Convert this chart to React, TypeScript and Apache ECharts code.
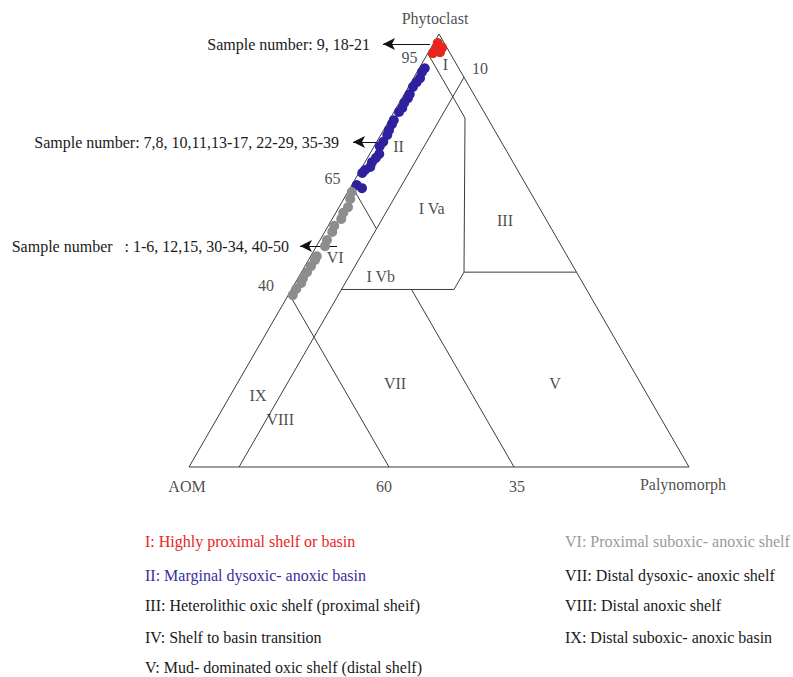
import React, { useEffect, useRef } from "react";
import * as echarts from "echarts";

// Ternary compositions in % : Phytoclast (P), AOM (A), Palynomorph (M)
const redP = [97.9, 96.8, 96.5, 95.8, 95.6];
const redA = [1.3, 1.0, 2.3, 1.9, 3.4];
const redM = [0.8, 2.2, 1.2, 2.3, 1.0];

const blueP = [92.1, 91.2, 89.8, 88.9, 87.8, 86.1, 85.2, 84.1, 82.9, 82.0, 80.1, 79.2, 77.8, 76.7, 75.1, 74.1, 72.3, 71.4, 70.4, 69.3, 68.6, 67.9, 65.1, 64.4];
const blueA = [6.8, 7.8, 8.9, 10.0, 11.3, 12.8, 13.6, 14.9, 15.9, 17.0, 19.0, 19.8, 21.1, 22.0, 23.6, 24.8, 25.8, 26.9, 28.2, 29.1, 30.5, 31.4, 33.9, 33.2];
const blueM = [1.1, 1.0, 1.3, 1.1, 0.9, 1.1, 1.2, 1.0, 1.2, 1.0, 0.9, 1.0, 1.1, 1.3, 1.3, 1.1, 1.9, 1.7, 1.4, 1.6, 0.9, 0.7, 1.0, 2.4];

const grayP = [63.5, 61.9, 60.0, 58.7, 57.3, 55.7, 54.3, 52.4, 51.0, 48.7, 47.8, 46.4, 45.0, 43.6, 42.5, 41.1, 39.7];
const grayA = [35.7, 36.8, 38.2, 39.8, 40.9, 43.1, 44.2, 46.2, 47.3, 50.1, 50.9, 52.4, 53.9, 55.4, 56.3, 58.0, 59.4];
const grayM = [0.8, 1.3, 1.8, 1.5, 1.8, 1.2, 1.5, 1.4, 1.7, 1.2, 1.3, 1.2, 1.1, 1.0, 1.2, 0.9, 0.9];

// Field boundaries, vertices as [P, A, M]
const outline = [[100, 0, 0], [0, 100, 0], [0, 0, 100], [100, 0, 0]];
const lineM10 = [[90, 0, 10], [0, 90, 10]];
const lineA60 = [[40, 60, 0], [0, 60, 40]];
const lineA35Upper = [[65, 35, 0], [55, 35, 10]];
const lineA35Lower = [[41, 35, 24], [0, 35, 65]];
const fieldIVBorder = [[95.5, 4.5, 0], [80.6, 4.5, 14.9], [45, 22.5, 32.5], [41, 26.5, 32.5], [41, 49, 10]];
const lineP45 = [[45, 22.5, 32.5], [45, 0, 55]];

// Field labels
const fieldNames = ["I", "II", "III", "I Va", "I Vb", "VI", "VII", "VIII", "IX", "V"];
const fieldP = [93.0, 74.0, 57.0, 59.7, 44.1, 48.3, 19.2, 10.9, 16.4, 19.2];
const fieldA = [2.2, 21.1, 8.3, 21.6, 39.6, 46.6, 49.2, 76.3, 78.0, 17.2];
const fieldM = [4.8, 4.9, 34.7, 18.7, 16.3, 5.1, 31.6, 12.8, 5.6, 63.6];

// Vertex and tick labels
const vertexNames = ["Phytoclast", "AOM", "Palynomorph"];
const vertexP = [100, 0, 0];
const vertexA = [0, 100, 0];
const vertexM = [0, 0, 100];

const tickNames = ["95", "65", "40", "10", "60", "35"];
const tickP = [95, 65, 40, 90, 0, 0];
const tickA = [5, 35, 60, 0, 60, 35];
const tickM = [0, 0, 0, 10, 40, 65];

// Annotations
const sampleTexts = [
  "Sample number: 9, 18-21",
  "Sample number: 7,8, 10,11,13-17, 22-29, 35-39",
  "Sample number   : 1-6, 12,15, 30-34, 40-50",
];
// arrows in chart data units [from, to]
const arrows = [
  [[48.2, 84.6], [38.8, 84.6]],
  [[39.8, 65.0], [32.8, 65.0]],
  [[29.6, 44.2], [22.2, 44.2]],
];

const legendLeft = [
  "I: Highly proximal shelf or basin",
  "II: Marginal dysoxic- anoxic basin",
  "III: Heterolithic oxic shelf (proximal sheif)",
  "IV: Shelf to basin transition",
  "V: Mud- dominated oxic shelf (distal shelf)",
];
const legendRight = [
  "VI: Proximal suboxic- anoxic shelf",
  "VII: Distal dysoxic- anoxic shelf",
  "VIII: Distal anoxic shelf",
  "IX: Distal suboxic- anoxic basin",
];

const SQ = Math.sqrt(3) / 2;
const toXY = (p: number, a: number, m: number): [number, number] => {
  const s = p + a + m;
  return [((m + p / 2) / s) * 100, (p / s) * 100 * SQ];
};

const FONT = '"Liberation Serif", "Times New Roman", serif';
const RED = "#e8261e";
const BLUE = "#2f20a0";
const GRAY = "#8d8d8d";
const LINE = "#3c3c3c";
const INK = "#1a1a1a";

export default function App() {
  const ref = useRef<HTMLDivElement>(null);
  useEffect(() => {
    document.body.style.margin = "0";
    const chart = echarts.init(ref.current!, null, { renderer: "svg" });

    const lineSeries = (name: string, pts: number[][]) => ({
      name,
      type: "line",
      data: pts.map((v) => toXY(v[0], v[1], v[2])),
      showSymbol: false,
      symbol: "none",
      silent: true,
      clip: false,
      lineStyle: { color: LINE, width: 1 },
      z: 2,
    });

    const points = (name: string, P: number[], A: number[], M: number[], color: string) => ({
      name,
      type: "scatter",
      data: P.map((p, i) => toXY(p, A[i], M[i])),
      symbolSize: 10,
      clip: false,
      itemStyle: { color, opacity: 1 },
      z: 5,
    });

    const labelSeries = (
      name: string,
      names: string[],
      P: number[],
      A: number[],
      M: number[],
      offsets: number[][] | null,
      fontSize: number
    ) => ({
      name,
      type: "scatter",
      symbolSize: 0,
      clip: false,
      silent: true,
      z: 6,
      data: names.map((n, i) => ({
        name: n,
        value: toXY(P[i], A[i], M[i]),
        label: {
          show: true,
          position: "inside",
          formatter: n,
          offset: offsets ? offsets[i] : [0, 0],
          color: INK,
          fontFamily: FONT,
          fontSize,
          align: "center",
          verticalAlign: "middle",
        },
      })),
    });

    const vertexOffsets = [[-4, -16], [-2, 19], [-6, 17]];
    const tickOffsets = [[-17, 2], [-19, -7], [-23, -8], [16, -9], [-5, 19], [3, 19]];

    const graphics: any[] = [];
    const sampleY = [44, 142, 246];
    const sampleX = [370, 339, 289];
    sampleTexts.forEach((t, i) => {
      graphics.push({
        type: "text",
        x: sampleX[i],
        y: sampleY[i],
        style: { text: t, font: `16px ${FONT}`, fill: INK, align: "right", verticalAlign: "middle" },
      });
    });
    const leftColors = [RED, "#3a2d9c", INK, INK, INK];
    const rightColors = ["#9a9a9a", INK, INK, INK];
    const rowY = [541, 575, 605, 637, 667];
    legendLeft.forEach((t, i) => {
      graphics.push({
        type: "text",
        x: 145,
        y: rowY[i],
        style: { text: t, font: `16px ${FONT}`, fill: leftColors[i], align: "left", verticalAlign: "middle" },
      });
    });
    legendRight.forEach((t, i) => {
      graphics.push({
        type: "text",
        x: 565,
        y: rowY[i],
        style: { text: t, font: `16px ${FONT}`, fill: rightColors[i], align: "left", verticalAlign: "middle" },
      });
    });

    const outlineSeries: any = lineSeries("outline", outline);
    outlineSeries.markLine = {
      silent: true,
      symbol: ["none", "arrow"],
      symbolSize: [9, 12],
      animation: false,
      label: { show: false },
      lineStyle: { color: "#111", width: 1, type: "solid" },
      data: arrows.map((a) => [{ coord: a[0] }, { coord: a[1] }]),
    };

    chart.setOption({
      animation: false,
      backgroundColor: "#ffffff",
      grid: { left: 189, top: 34, width: 500, height: 433, containLabel: false },
      xAxis: { type: "value", min: 0, max: 100, show: false },
      yAxis: { type: "value", min: 0, max: 100 * SQ, show: false },
      series: [
        outlineSeries,
        lineSeries("M10", lineM10),
        lineSeries("A60", lineA60),
        lineSeries("A35a", lineA35Upper),
        lineSeries("A35b", lineA35Lower),
        lineSeries("IV", fieldIVBorder),
        lineSeries("P45", lineP45),
        points("I", redP, redA, redM, RED),
        points("II", blueP, blueA, blueM, BLUE),
        points("VI", grayP, grayA, grayM, GRAY),
        labelSeries("fields", fieldNames, fieldP, fieldA, fieldM, null, 16),
        labelSeries("vertices", vertexNames, vertexP, vertexA, vertexM, vertexOffsets, 16),
        labelSeries("ticks", tickNames, tickP, tickA, tickM, tickOffsets, 16),
      ],
      graphic: graphics,
    });
    return () => chart.dispose();
  }, []);
  return <div ref={ref} style={{ width: 793, height: 677 }} />;
}
